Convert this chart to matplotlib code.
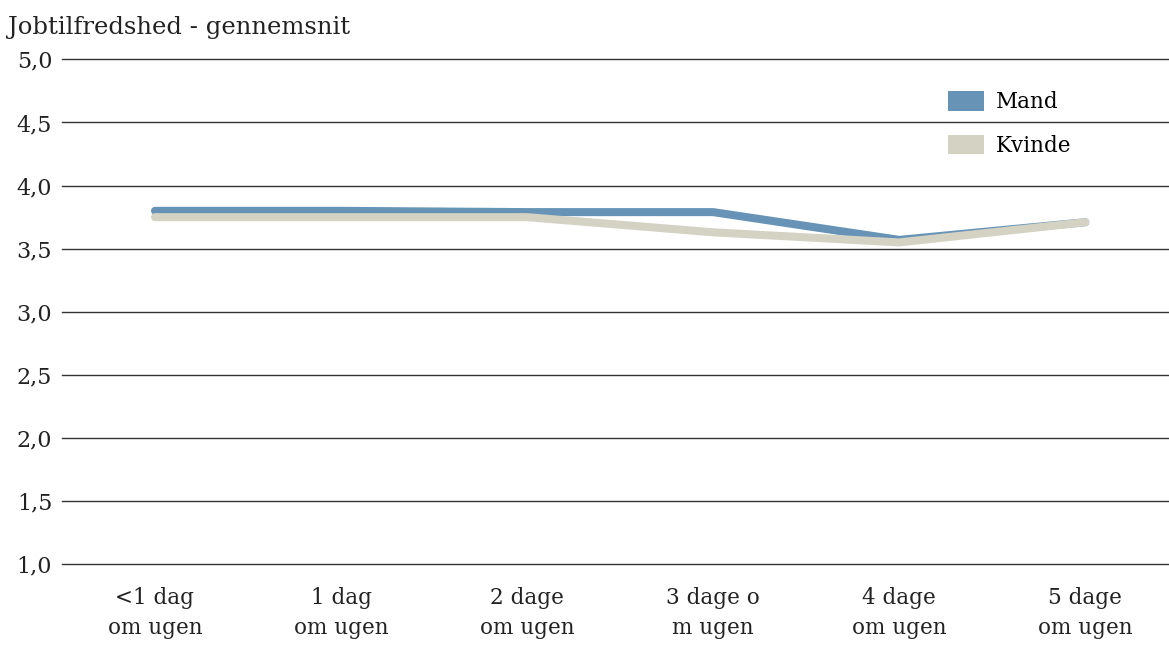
import matplotlib
matplotlib.use("Agg")
import matplotlib.pyplot as plt
from matplotlib.patches import Patch

categories = ["<1 dag\nom ugen", "1 dag\nom ugen", "2 dage\nom ugen",
              "3 dage o\nm ugen", "4 dage\nom ugen", "5 dage\nom ugen"]
mand = [3.80, 3.80, 3.79, 3.79, 3.57, 3.71]
kvinde = [3.75, 3.75, 3.75, 3.63, 3.55, 3.71]
yticks = [1.0, 1.5, 2.0, 2.5, 3.0, 3.5, 4.0, 4.5, 5.0]

c_mand = "#6793b7"
c_kvinde = "#d3d2c3"

plt.rcParams["font.family"] = ["DejaVu Serif"]

fig = plt.figure(figsize=(11.69, 6.45), dpi=100)
ax = fig.add_axes([0.053, 0.125, 0.947, 0.783])

x = list(range(len(categories)))
ax.plot(x, mand, color=c_mand, lw=5.8, solid_capstyle="round", solid_joinstyle="round", zorder=3)
ax.plot(x, kvinde, color=c_kvinde, lw=5.8, solid_capstyle="round", solid_joinstyle="round", zorder=4)

# horizontal gridlines, drawn unclipped so the 1,0 line shows fully
for v in yticks:
    ax.axhline(v, color="#333333", lw=1.0, zorder=1, clip_on=False)

ax.set_ylim(1.0, 5.0)
ax.set_xlim(-0.5, 5.45)
ax.set_yticks(yticks)
ax.set_yticklabels([f"{v:.1f}".replace(".", ",") for v in yticks], fontsize=16)
ax.set_xticks(x)
ax.set_xticklabels(categories, fontsize=15.5, linespacing=1.5)
ax.tick_params(axis="both", length=0, pad=7, colors="#222222")
ax.tick_params(axis="x", pad=16)
for s in ax.spines.values():
    s.set_visible(False)

fig.text(0.007, 0.958, "Jobtilfredshed - gennemsnit", fontsize=17.5, color="#222222", va="center")

handles = [Patch(facecolor=c_mand, label="Mand"), Patch(facecolor=c_kvinde, label="Kvinde")]
leg = ax.legend(handles=handles, loc="upper left", bbox_to_anchor=(0.783, 0.975), frameon=False,
                fontsize=15.5, handlelength=1.65, handleheight=1.0, labelspacing=1.0, handletextpad=0.55)

fig.savefig("out.png", dpi=100)
